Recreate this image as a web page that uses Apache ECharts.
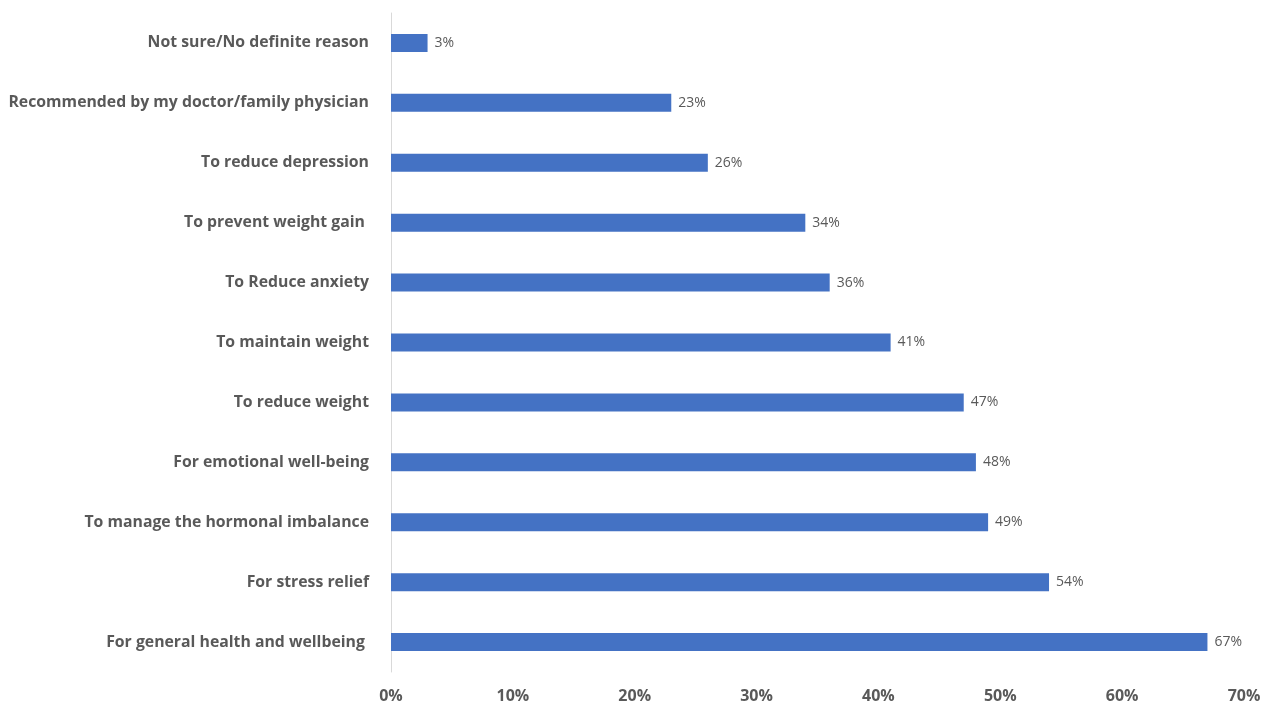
<!DOCTYPE html>
<html>
<head>
<meta charset="utf-8">
<script src="https://cdn.jsdelivr.net/npm/echarts@6/dist/echarts.min.js"></script>
<style>
  html, body { margin: 0; padding: 0; background: #ffffff; }
  #chart { width: 1270px; height: 707px; }
</style>
</head>
<body>
<div id="chart"></div>
<script>
// Reasons, listed top to bottom as drawn
const reasons = [
  'Not sure/No definite reason',
  'Recommended by my doctor/family physician',
  'To reduce depression',
  'To prevent weight gain ',
  'To Reduce anxiety',
  'To maintain weight',
  'To reduce weight',
  'For emotional well-being',
  'To manage the hormonal imbalance',
  'For stress relief',
  'For general health and wellbeing '
];
// Share of respondents (%)
const shares = [3, 23, 26, 34, 36, 41, 47, 48, 49, 54, 67];
// Horizontal axis range (%)
const axisMin = 0;
const axisMax = 70;
const axisStep = 10;

const textColor = '#595959';
const fontFamily = '"Open Sans", "Liberation Sans", sans-serif';

const chart = echarts.init(document.getElementById('chart'));
chart.setOption({
  animation: false,
  grid: { left: 391, right: 26, top: 13, bottom: 35, containLabel: false },
  xAxis: {
    type: 'value',
    min: axisMin,
    max: axisMax,
    interval: axisStep,
    axisLine: { show: false },
    axisTick: { show: false },
    splitLine: { show: false },
    axisLabel: {
      formatter: v => v + '%',
      color: textColor,
      fontFamily: fontFamily,
      fontWeight: 'bold',
      fontSize: 16,
      margin: 16
    }
  },
  yAxis: {
    type: 'category',
    data: reasons,
    inverse: true,
    axisLine: { show: true, lineStyle: { color: '#d9d9d9', width: 1 } },
    axisTick: { show: false },
    axisLabel: {
      color: textColor,
      fontFamily: fontFamily,
      fontWeight: 'bold',
      fontSize: 15.8,
      margin: 22
    }
  },
  series: [{
    type: 'bar',
    data: shares,
    barWidth: 18,
    itemStyle: { color: '#4472C4' },
    label: {
      show: true,
      position: 'right',
      distance: 7,
      formatter: p => p.value + '%',
      color: textColor,
      fontFamily: fontFamily,
      fontSize: 14
    }
  }]
});
</script>
</body>
</html>
